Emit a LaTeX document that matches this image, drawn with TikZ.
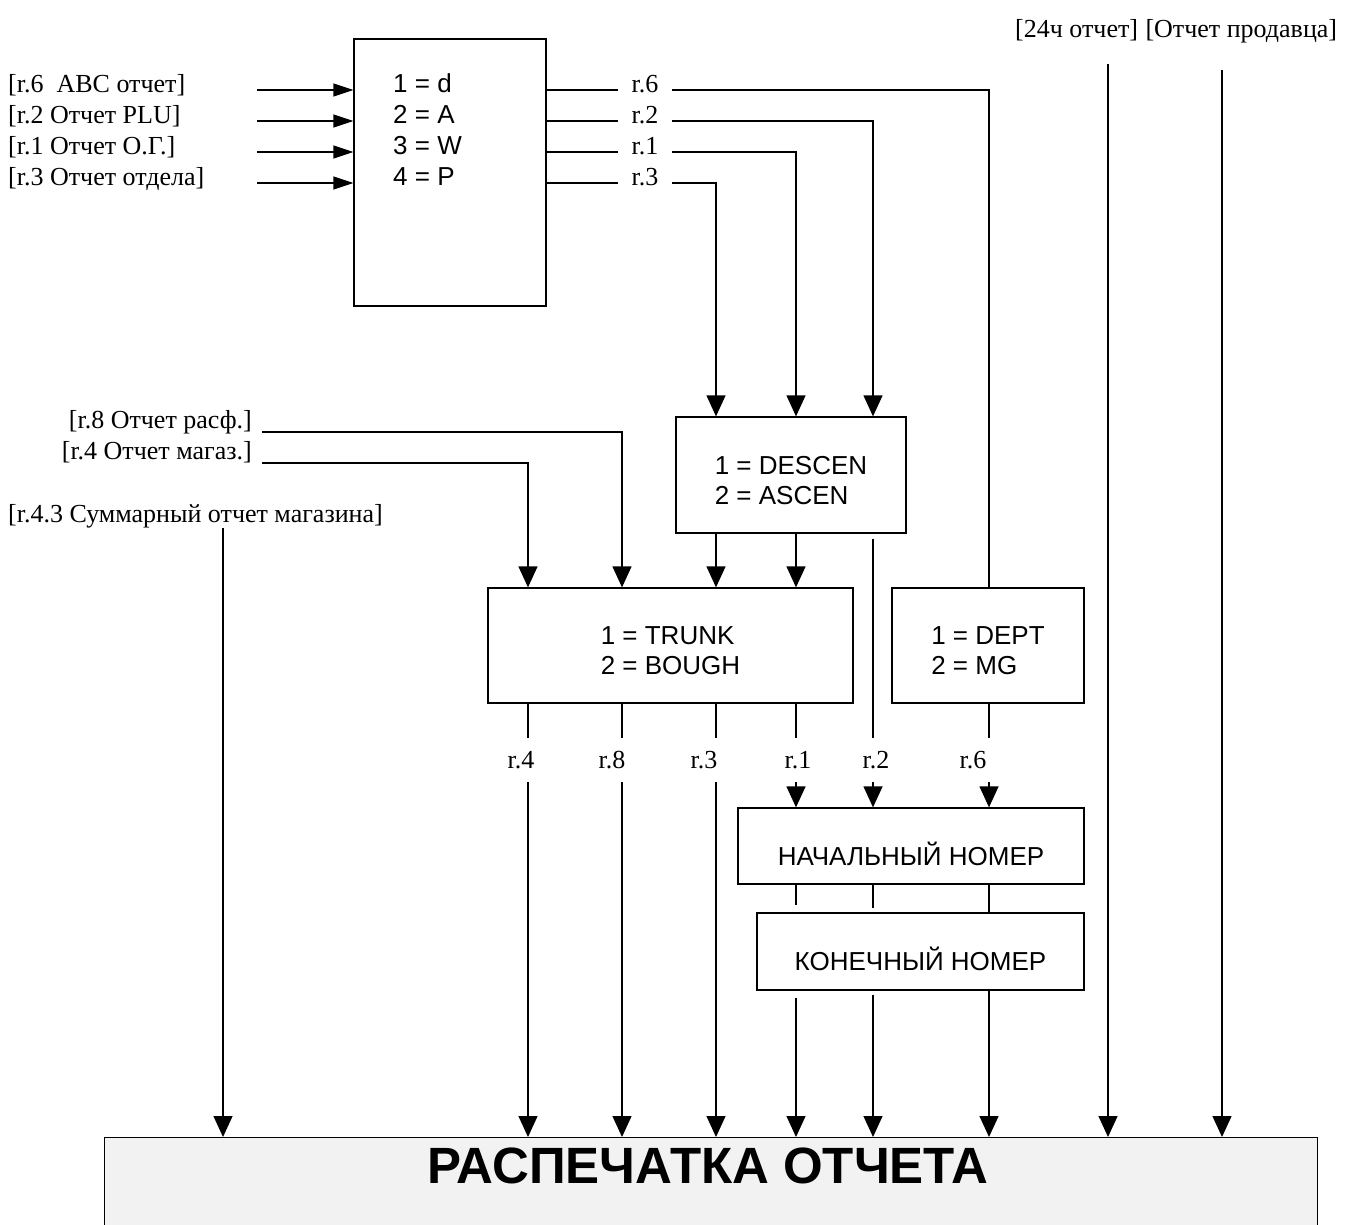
\documentclass[tikz,border=0pt]{standalone}
\usepackage{fontspec}
\setmainfont{Liberation Serif}
\setsansfont{Liberation Sans}
\usetikzlibrary{arrows.meta}
\begin{document}
\begin{tikzpicture}[x=1pt, y=-1pt,
  box/.style={draw, line width=1.3pt, align=left, inner sep=0pt,
    font=\sffamily\fontsize{26}{30}\selectfont},
  two/.style={text height=59pt},
  txt/.style={font=\sffamily\fontsize{26}{30}\selectfont, inner sep=0pt},
  lab/.style={font=\fontsize{26}{30}\selectfont, inner sep=0pt},
  wire/.style={line width=1.3pt},
  flow/.style={wire, -{Triangle[length=21pt, width=19pt]}},
  hflow/.style={wire, -{Triangle[length=20pt, width=13pt]}},
  title/.style={font=\sffamily\bfseries\fontsize{51}{60}\selectfont, inner sep=0pt}]
\useasboundingbox (0,0) rectangle (1351,1225);
\foreach \n/\x in {43/223,4/528,8/622,3/716,1/796,2/873,6/989,24/1108,se/1222}
  \coordinate (c\n) at (\x,0);
\node[box, minimum width=192pt, minimum height=267pt] (sel) at (450,172.5) {};
\node[box, two, minimum width=230pt, minimum height=116pt] (desc) at (791,475) {1 = DESCEN\\2 = ASCEN};
\node[box, two, minimum width=365pt, minimum height=115pt] (trunk) at (670.5,645.5) {1 = TRUNK\\2 = BOUGH};
\node[box, two, minimum width=192pt, minimum height=115pt] (dept) at (988,645.5) {1 = DEPT\\2 = MG};
\node[box, minimum width=346pt, minimum height=76pt, text height=40pt] (nach) at (911,846) {НАЧАЛЬНЫЙ НОМЕР};
\node[box, minimum width=327pt, minimum height=77pt, text height=38pt] (kon) at (920.5,951.5) {КОНЕЧНЫЙ НОМЕР};
\node[box, fill=black!5, anchor=north west, minimum width=1213pt, minimum height=110pt] (out) at (104,1137) {};
\node[title, anchor=base] (ttl) at (708,1183) {РАСПЕЧАТКА ОТЧЕТА};
\foreach \k/\y/\v/\o/\txt in {1/90/d/6/{[r.6\ \ ABC отчет]}, 2/121/A/2/{[r.2 Отчет PLU]},
    3/152/W/1/{[r.1 Отчет О.Г.]}, 4/183/P/3/{[r.3 Отчет отдела]}} {
  \node[lab, anchor=mid west] (in\k) at (8,\y) {\txt};
  \coordinate (s\k) at (257,\y);
  \draw[hflow] (s\k) -- (sel.west |- s\k);
  \node[txt, anchor=mid west] (m\k) at (393,\y) {\k{} = \v};
  \node[lab, anchor=mid, minimum width=54pt] (o\k) at (645,\y) {r.\o};
  \draw[wire] (sel.east |- s\k) -- (o\k.west |- s\k);
}
\draw[wire] (o1.east |- s1) -| (dept.north -| c6);
\draw[flow] (o2.east |- s2) -| (desc.north -| c2);
\draw[flow] (o3.east |- s3) -| (desc.north -| c1);
\draw[flow] (o4.east |- s4) -| (desc.north -| c3);
\foreach \n in {3,1}
  \draw[flow] (desc.south -| c\n) -- (trunk.north -| c\n);
\node[lab, anchor=base east] (l8) at (252,428) {[r.8 Отчет расф.]};
\node[lab, anchor=base east] (l4) at (252,459) {[r.4 Отчет магаз.]};
\coordinate (e8) at (262,432);
\coordinate (e4) at (262,463);
\draw[flow] (e8) -| (trunk.north -| c8);
\draw[flow] (e4) -| (trunk.north -| c4);
\node[lab, anchor=base west] (sum) at (8,522) {[r.4.3 Суммарный отчет магазина]};
\draw[flow] (sum.south -| c43) -- (out.north -| c43);
\foreach \n/\x in {4/521,8/612,3/704,1/798,2/876,6/973}
  \node[lab, minimum height=44pt] (b\n) at (\x,760) {r.\n};
\foreach \n in {4,8,3,1}
  \draw[wire] (trunk.south -| c\n) -- (c\n |- b\n.north);
\foreach \n in {4,8,3}
  \draw[flow] (c\n |- b\n.south) -- (out.north -| c\n);
\draw[flow] (c1 |- b1.south) -- (nach.north -| c1);
\draw[wire, shorten <=5pt] (desc.south -| c2) -- (c2 |- b2.north);
\draw[flow] (c2 |- b2.south) -- (nach.north -| c2);
\draw[wire] (dept.south -| c6) -- (c6 |- b6.north);
\draw[flow] (c6 |- b6.south) -- (nach.north -| c6);
\foreach \n/\g in {1/7pt,2/4pt,6/0pt} {
  \draw[wire, shorten >=\g] (nach.south -| c\n) -- (kon.north -| c\n);
  \draw[flow, shorten <=\g] (kon.south -| c\n) -- (out.north -| c\n);
}
\node[lab, anchor=base west] (t24) at (1015,38) {[24ч отчет]};
\node[lab, anchor=base west] (tse) at ([xshift=7pt]t24.base east) {[Отчет продавца]};
\draw[flow, shorten <=22pt] (t24.south -| c24) -- (out.north -| c24);
\draw[flow, shorten <=26pt] (tse.south -| cse) -- (out.north -| cse);
\end{tikzpicture}
\end{document}
